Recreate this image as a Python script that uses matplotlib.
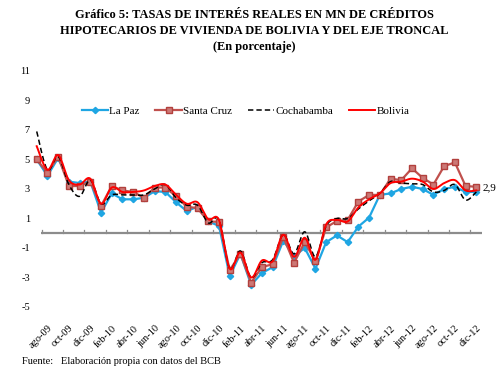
import numpy as np
import matplotlib
matplotlib.use("Agg")
import matplotlib.pyplot as plt
from matplotlib.lines import Line2D

plt.rcParams['font.family'] = ['Liberation Serif', 'DejaVu Serif']

months = ["jul-09", "ago-09", "sep-09", "oct-09", "nov-09", "dic-09",
          "ene-10", "feb-10", "mar-10", "abr-10", "may-10", "jun-10",
          "jul-10", "ago-10", "sep-10", "oct-10", "nov-10", "dic-10",
          "ene-11", "feb-11", "mar-11", "abr-11", "may-11", "jun-11",
          "jul-11", "ago-11", "sep-11", "oct-11", "nov-11", "dic-11",
          "ene-12", "feb-12", "mar-12", "abr-12", "may-12", "jun-12",
          "jul-12", "ago-12", "sep-12", "oct-12", "nov-12", "dic-12"]

la_paz = [5.0, 3.9, 5.1, 3.5, 3.4, 3.5, 1.4, 2.7, 2.3, 2.3, 2.4, 2.85,
          2.8, 2.1, 1.5, 1.8, 0.8, 0.5, -2.9, -1.4, -3.5, -2.7, -2.3, -0.5,
          -1.55, -1.0, -2.4, -0.6, -0.15, -0.6, 0.45, 1.06, 2.6, 2.7, 3.0, 3.15,
          3.0, 2.6, 3.0, 3.15, 2.8, 2.8]
santa_cruz = [5.0, 4.1, 5.2, 3.2, 3.2, 3.5, 1.85, 3.2, 2.9, 2.8, 2.4, 3.1,
              3.1, 2.5, 1.8, 1.7, 0.8, 0.77, -2.5, -1.4, -3.35, -2.3, -2.1, -0.25,
              -2.0, -0.6, -1.9, 0.4, 0.83, 0.9, 2.15, 2.6, 2.6, 3.7, 3.6, 4.4,
              3.75, 3.3, 4.55, 4.8, 3.2, 3.15]
cochabamba = [6.9, 4.3, 5.2, 3.3, 2.5, 3.6, 2.0, 2.6, 2.6, 2.6, 2.6, 3.0,
              3.3, 2.4, 1.9, 1.9, 0.7, 0.9, -2.4, -1.2, -3.0, -2.0, -1.8, -0.1,
              -1.4, 0.1, -1.6, 0.5, 1.0, 1.0, 1.65, 2.2, 2.7, 3.5, 3.4, 3.35,
              3.3, 2.8, 2.9, 3.3, 2.25, 2.8]
bolivia = [5.9, 4.3, 5.3, 3.6, 3.3, 3.7, 2.0, 3.1, 2.8, 2.8, 2.9, 3.2,
           3.3, 2.6, 2.0, 2.1, 0.95, 0.9, -2.4, -1.3, -3.0, -1.85, -1.9, -0.1,
           -1.6, -0.3, -1.8, 0.6, 0.9, 0.8, 1.75, 2.3, 2.7, 3.4, 3.5, 3.7,
           3.5, 3.0, 3.4, 3.6, 2.9, 2.9]
yticks = [-5, -3, -1, 1, 3, 5, 7, 9, 11]


def smooth(y, n=12):
    y = np.asarray(y, float)
    x = np.arange(len(y), dtype=float)
    P = np.concatenate([[y[0]], y, [y[-1]]])
    X = np.concatenate([[x[0]], x, [x[-1]]])
    xs, ys = [], []
    for i in range(1, len(P) - 2):
        p0, p1, p2, p3 = P[i - 1], P[i], P[i + 1], P[i + 2]
        q0, q1, q2, q3 = X[i - 1], X[i], X[i + 1], X[i + 2]
        t = np.linspace(0, 1, n, endpoint=False)
        c1y = p1 + (p2 - p0) / 6
        c2y = p2 - (p3 - p1) / 6
        c1x = q1 + (q2 - q0) / 6
        c2x = q2 - (q3 - q1) / 6
        b = lambda a0, a1, a2, a3: ((1 - t) ** 3 * a0 + 3 * (1 - t) ** 2 * t * a1
                                    + 3 * (1 - t) * t ** 2 * a2 + t ** 3 * a3)
        xs.append(b(q1, c1x, c2x, q2))
        ys.append(b(p1, c1y, c2y, p2))
    xs.append([x[-1]])
    ys.append([y[-1]])
    return np.concatenate(xs), np.concatenate(ys)


fig = plt.figure(figsize=(5.04, 3.79), dpi=100)
ax = fig.add_axes([0.0622, 0.19, 0.8935, 0.6227])
x = np.arange(len(months))

c_lp = '#1FA6E3'
c_sc = '#C0504D'
c_co = '#000000'
c_bo = '#FF0000'

# zero axis line with ticks
ax.plot([0.4, 41.5], [0, 0], color='#8C8C8C', lw=1.6, zorder=1, solid_capstyle='butt')
for k in range(21):
    ax.plot([0.45 + 2 * k] * 2, [0, 0.22], color='#8C8C8C', lw=0.9, zorder=1)

ax.plot(x, la_paz, color=c_lp, lw=1.6, marker='D', ms=3.2, mfc=c_lp, mec=c_lp, zorder=3)
ax.plot(x, santa_cruz, color=c_sc, lw=1.6, marker='s', ms=4.4, mfc='#CC7876', mec='#B2403D',
        mew=1.0, zorder=4)
xc, yc = smooth(cochabamba)
ax.plot(xc, yc, color=c_co, lw=1.1, ls=(0, (3.5, 2)), zorder=5)
xb, yb = smooth(bolivia)
ax.plot(xb, yb, color=c_bo, lw=1.4, zorder=6)

ax.text(41.6, bolivia[-1] + 0.15, "2,9", fontsize=8, va='center', ha='left')

ax.set_xlim(-0.5, 41.5)
ax.set_ylim(-5, 11)
ax.set_yticks(yticks)
ax.set_yticklabels([str(v) for v in yticks], fontsize=7.5)
ax.set_xticks(x[1::2])
ax.set_xticklabels(months[1::2], rotation=45, ha='right', va='top', fontsize=7.5,
                   rotation_mode='anchor')
ax.tick_params(axis='x', length=0, pad=12)
ax.tick_params(axis='y', length=0, pad=1)
for s in ax.spines.values():
    s.set_visible(False)

handles = [
    Line2D([], [], color=c_lp, lw=1.6, marker='D', ms=3.2, mfc=c_lp, mec=c_lp),
    Line2D([], [], color=c_sc, lw=1.6, marker='s', ms=4.4, mfc='#CC7876', mec='#B2403D', mew=1.0),
    Line2D([], [], color=c_co, lw=1.1, ls=(0, (3.5, 2))),
    Line2D([], [], color=c_bo, lw=1.4),
]
fig.legend(handles, ["La Paz", "Santa Cruz", "Cochabamba", "Bolivia"],
           loc='center', bbox_to_anchor=(0.487, 1 - 111.5 / 379), ncol=4, frameon=False,
           fontsize=8, handlelength=2.4, handletextpad=0.1, columnspacing=1.4)

fig.text(0.505, 1 - 15 / 379, "Gráfico 5: TASAS DE INTERÉS REALES EN MN DE CRÉDITOS",
         ha='center', va='center', fontsize=8.9, fontweight='bold')
fig.text(0.505, 1 - 31 / 379, "HIPOTECARIOS DE VIVIENDA DE BOLIVIA Y DEL EJE TRONCAL",
         ha='center', va='center', fontsize=8.9, fontweight='bold')
fig.text(0.505, 1 - 47 / 379, "(En porcentaje)",
         ha='center', va='center', fontsize=8.9, fontweight='bold')
fig.text(22 / 504, 1 - 361 / 379, "Fuente:   Elaboración propia con datos del BCB",
         ha='left', va='center', fontsize=7.5)

fig.savefig("out.png", dpi=100)
